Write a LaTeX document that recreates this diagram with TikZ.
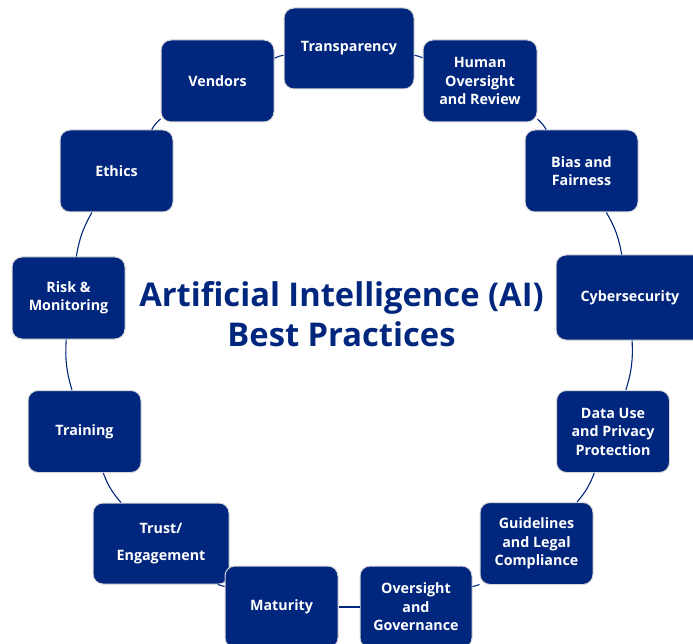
\documentclass[tikz,border=0pt]{standalone}
\usepackage{fontspec}
\setmainfont{Open Sans}
\definecolor{navy}{RGB}{0,38,125}
\tikzset{
  box/.style={draw=gray!30, line width=1pt, fill=navy, rounded corners=10pt,
    text=white, font=\bfseries\fontsize{14.3}{18.5}\selectfont, align=center,
    minimum width=113pt, minimum height=82pt, inner sep=2pt},
  link/.style={draw=navy, line width=1.1pt},
}
\begin{document}
\begin{tikzpicture}[x=1pt,y=1pt]
\useasboundingbox (0,0) rectangle (693,-644);
% boxes
\node[box, minimum width=130pt, minimum height=81pt] (T) at (349,-48.5) {Transparency};
\node[box] (V) at (217.5,-81) {Vendors};
\node[box, minimum width=114pt] (H) at (480,-81) {Human\\Oversight\\and Review};
\node[box] (E) at (116.5,-171) {Ethics};
\node[box] (B) at (581.5,-171) {Bias and\\Fairness};
\node[box] (R) at (68.5,-298) {Risk \&\\Monitoring};
\node[box, minimum width=148pt, minimum height=85pt] (C) at (630,-297.5) {Cybersecurity};
\node[box] (D) at (613,-431.5) {Data Use\\and Privacy\\Protection};
\node[box] (Tr) at (84.5,-431.5) {Training};
\node[box] (G) at (536.5,-543.5) {Guidelines\\and Legal\\Compliance};
\node[box, minimum width=136pt, minimum height=81pt] (TE) at (161,-543.5) {Trust/\\[8pt]Engagement};
\node[box, minimum width=112pt] (O) at (416,-607) {Oversight\\and\\Governance};
\node[box] (M) at (281.5,-607) {Maturity};
% title
\node[text=navy, font=\bfseries\fontsize{32.7}{40}\selectfont, align=center] (title) at (341.5,-314) {Artificial Intelligence (AI)\\Best Practices};
% connectors
\draw[link] (T) to[bend left=8] (H);
\draw[link] (H) to[bend left=8] (B);
\draw[link] (B) to[bend left=10] (C);
\draw[link] (C) to[bend left=10] (D);
\draw[link] (D) to[bend left=10] (G);
\draw[link] (G) to[bend left=8] (O);
\draw[link] (O) to (M);
\draw[link] (M) to[bend left=8] (TE);
\draw[link] (TE) to[bend left=10] (Tr);
\draw[link] (Tr) to[bend left=10] (R);
\draw[link] (R) to[bend left=10] (E);
\draw[link] (E) to[bend left=8] (V);
\draw[link] (V) to[bend left=8] (T);
\end{tikzpicture}
\end{document}
